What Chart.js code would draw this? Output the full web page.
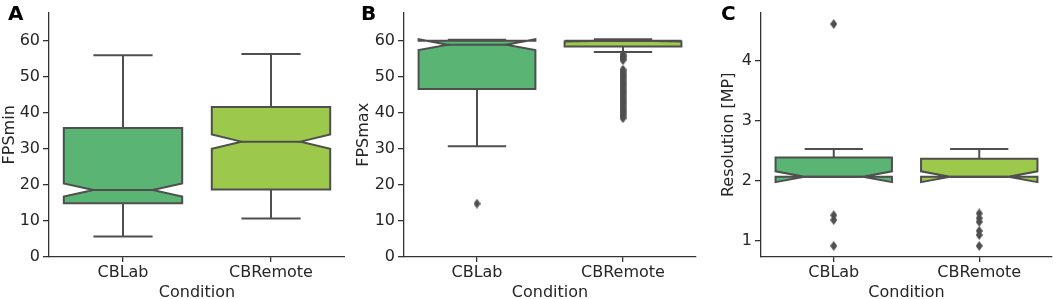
<!DOCTYPE html>
<html>
<head>
<meta charset="utf-8">
<script src="https://cdn.jsdelivr.net/npm/chart.js@4.4.1/dist/chart.umd.min.js"></script>
<style>
  html, body { margin: 0; padding: 0; background: #fff; width: 1059px; height: 299px; overflow: hidden; }
  .panel { position: absolute; top: 0; height: 302px; }
  .tag { position: absolute; top: 3px; font: bold 20px "DejaVu Sans"; line-height: 20px; color: #000; }
</style>
</head>
<body>
<div class="panel" style="left:0;width:345px"><canvas id="chartA"></canvas></div>
<div class="panel" style="left:354px;width:348px"><canvas id="chartB"></canvas></div>
<div class="panel" style="left:719px;width:339px"><canvas id="chartC"></canvas></div>
<div class="tag" style="left:8px">A</div>
<div class="tag" style="left:361px">B</div>
<div class="tag" style="left:721px">C</div>
<script>
const conditions = ['CBLab', 'CBRemote'];
const boxColors = ['#5ab473', '#9cc84b'];
const lineColor = '#4f4f4f';

// A: FPSmin
const fpsMinLow = [5.7, 10.7];
const fpsMinQ1 = [14.9, 18.7];
const fpsMinMed = [18.6, 32.0];
const fpsMinQ3 = [35.8, 41.6];
const fpsMinHigh = [56.0, 56.3];
const fpsMinNotch = [1.8, 2.0];
const fpsMinOutLab = [];
const fpsMinOutRemote = [];

// B: FPSmax
const fpsMaxLow = [30.7, 56.9];
const fpsMaxQ1 = [46.6, 58.4];
const fpsMaxMed = [58.9, 59.9];
const fpsMaxQ3 = [60.0, 60.0];
const fpsMaxHigh = [60.3, 60.4];
const fpsMaxNotch = [1.5, 0.1];
const fpsMaxOutLab = [14.8];
const fpsMaxOutRemote = [56.2, 55.8, 55.4, 55.0, 54.6, 52.0, 51.5, 51.0, 50.5, 50.0, 49.5, 49.0,
  48.5, 48.0, 47.5, 47.0, 46.5, 46.0, 45.5, 45.0, 44.5, 44.0, 43.5, 43.0, 42.5, 42.0, 41.5,
  41.0, 40.5, 40.0, 39.5, 39.0, 38.5];

// C: Resolution [MP]
const resLow = [2.07, 2.07];
const resQ1 = [2.07, 2.07];
const resMed = [2.07, 2.07];
const resQ3 = [2.39, 2.37];
const resHigh = [2.53, 2.53];
const resNotch = [0.09, 0.09];
const resOutLab = [4.61, 1.43, 1.35, 0.92];
const resOutRemote = [1.46, 1.38, 1.32, 1.17, 1.10, 0.92];

Chart.defaults.font.family = '"DejaVu Sans"';
Chart.defaults.font.size = 16;
Chart.defaults.color = '#262626';

// thin diamond marker like matplotlib's 'd'
function diamond(w, h) {
  const c = document.createElement('canvas');
  c.width = w; c.height = h;
  const g = c.getContext('2d');
  g.fillStyle = lineColor;
  g.beginPath();
  g.moveTo(w / 2, 0); g.lineTo(w, h / 2); g.lineTo(w / 2, h); g.lineTo(0, h / 2);
  g.closePath();
  g.fill();
  return c;
}
const marker = diamond(7, 10);

function boxPlugin(st) {
  return {
    id: 'notchedBoxes',
    beforeDatasetsDraw(chart) {
      const {ctx, scales: {x, y}} = chart;
      const catW = x.width / conditions.length;
      const py = v => y.getPixelForValue(v);
      ctx.save();
      ctx.lineWidth = 2;
      ctx.strokeStyle = lineColor;
      conditions.forEach((c, i) => {
        const cx = x.getPixelForValue(i);
        const hw = catW * 0.4, nw = catW * 0.2;
        const nLo = st.med[i] - st.notch[i], nHi = st.med[i] + st.notch[i];
        // whiskers + caps
        ctx.beginPath();
        ctx.moveTo(cx, py(st.q1[i])); ctx.lineTo(cx, py(st.low[i]));
        ctx.moveTo(cx, py(st.q3[i])); ctx.lineTo(cx, py(st.high[i]));
        ctx.moveTo(cx - nw, py(st.low[i])); ctx.lineTo(cx + nw, py(st.low[i]));
        ctx.moveTo(cx - nw, py(st.high[i])); ctx.lineTo(cx + nw, py(st.high[i]));
        ctx.stroke();
        // notched box
        const pts = [[-hw, st.q1[i]], [hw, st.q1[i]], [hw, nLo], [nw, st.med[i]], [hw, nHi],
          [hw, st.q3[i]], [-hw, st.q3[i]], [-hw, nHi], [-nw, st.med[i]], [-hw, nLo]];
        ctx.beginPath();
        pts.forEach(([dx, v], k) => k ? ctx.lineTo(cx + dx, py(v)) : ctx.moveTo(cx + dx, py(v)));
        ctx.closePath();
        ctx.fillStyle = boxColors[i];
        ctx.fill();
        ctx.stroke();
        // median
        ctx.beginPath();
        ctx.moveTo(cx - nw, py(st.med[i])); ctx.lineTo(cx + nw, py(st.med[i]));
        ctx.stroke();
      });
      ctx.restore();
    }
  };
}

function makePanel(id, st, outLab, outRemote, yTitle, yMin, yMax, step, yWidth) {
  const fliers = outLab.map(v => ({x: conditions[0], y: v}))
    .concat(outRemote.map(v => ({x: conditions[1], y: v})));
  return new Chart(document.getElementById(id), {
    type: 'line',
    data: {
      labels: conditions,
      datasets: [{
        data: fliers,
        showLine: false,
        pointStyle: marker,
        pointRadius: 5,
        borderColor: lineColor,
        backgroundColor: lineColor
      }]
    },
    options: {
      responsive: true,
      maintainAspectRatio: false,
      animation: false,
      layout: { padding: { top: 12, left: 0, right: 0, bottom: 0 } },
      plugins: { legend: { display: false }, tooltip: { enabled: false } },
      scales: {
        x: {
          offset: true,
          grid: { offset: false, drawOnChartArea: false, tickLength: 5, color: '#333', lineWidth: 1.3 },
          border: { color: '#333', width: 1.3 },
          ticks: { padding: 1 },
          title: { display: true, text: 'Condition', padding: 0 },
          afterFit: s => { s.height = 45; }
        },
        y: {
          min: yMin,
          max: yMax,
          grid: { drawOnChartArea: false, tickLength: 6, color: '#333', lineWidth: 1.3 },
          border: { color: '#333', width: 1.3 },
          ticks: { stepSize: step, includeBounds: false, padding: 3 },
          title: { display: true, text: yTitle, padding: 0 },
          afterFit: s => { s.width = yWidth; }
        }
      }
    },
    plugins: [boxPlugin(st)]
  });
}

makePanel('chartA',
  {low: fpsMinLow, q1: fpsMinQ1, med: fpsMinMed, q3: fpsMinQ3, high: fpsMinHigh, notch: fpsMinNotch},
  fpsMinOutLab, fpsMinOutRemote, 'FPSmin', 0, 67.8, 10, 49);
makePanel('chartB',
  {low: fpsMaxLow, q1: fpsMaxQ1, med: fpsMaxMed, q3: fpsMaxQ3, high: fpsMaxHigh, notch: fpsMaxNotch},
  fpsMaxOutLab, fpsMaxOutRemote, 'FPSmax', 0, 67.8, 10, 50);
makePanel('chartC',
  {low: resLow, q1: resQ1, med: resMed, q3: resQ3, high: resHigh, notch: resNotch},
  resOutLab, resOutRemote, 'Resolution [MP]', 0.735, 4.8, 1, 42);
</script>
</body>
</html>
